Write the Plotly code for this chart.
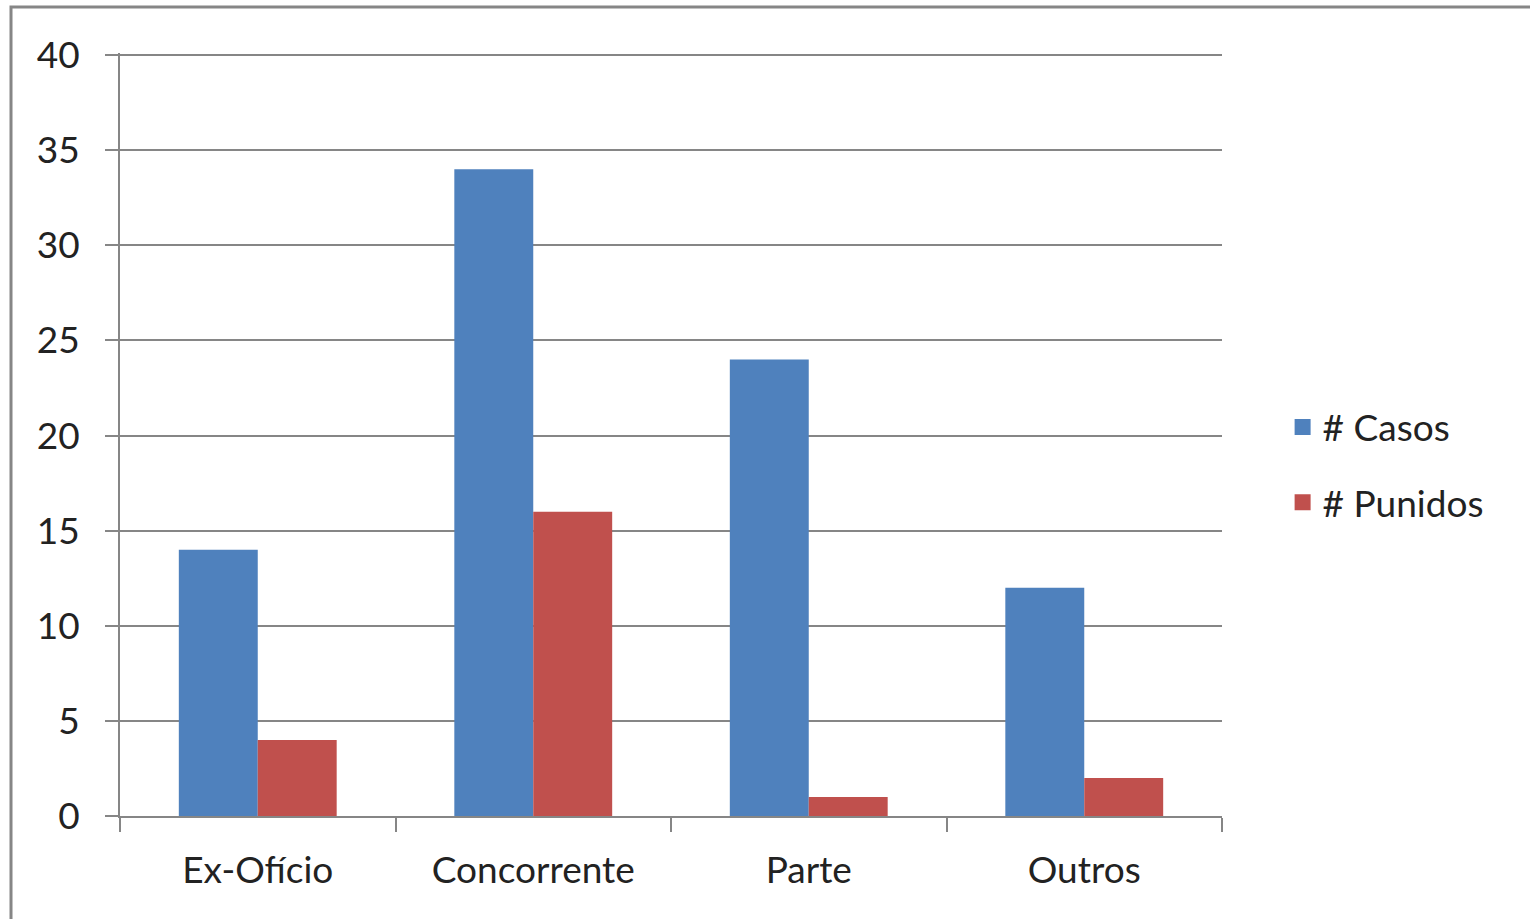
import plotly.graph_objects as go

categories = ["Ex-Ofício", "Concorrente", "Parte", "Outros"]
casos = [14, 34, 24, 12]
punidos = [4, 16, 1, 2]
y_ticks = [0, 5, 10, 15, 20, 25, 30, 35, 40]

FONT = "Lato, Open Sans, sans-serif"
GRAY = "#868686"
BLUE = "#4F81BD"
RED = "#C0504D"

fig = go.Figure()
fig.add_trace(go.Bar(x=categories, y=casos, name="# Casos", marker_color=BLUE,
                     marker_line_width=0, showlegend=False))
fig.add_trace(go.Bar(x=categories, y=punidos, name="# Punidos", marker_color=RED,
                     marker_line_width=0, showlegend=False))
# legend entries with larger square swatches
fig.add_trace(go.Scatter(x=[None], y=[None], mode="markers", name="# Casos",
                         marker=dict(symbol="square", size=20, color=BLUE),
                         legendgroup="a", showlegend=True))
fig.add_trace(go.Scatter(x=[None], y=[None], mode="markers", name="# Punidos",
                         marker=dict(symbol="square", size=20, color=RED),
                         legendgroup="b", showlegend=True))

PLOT_H = 816 - 53
fig.update_layout(
    width=1530, height=919,
    margin=dict(l=120, r=308, t=53, b=103),
    paper_bgcolor="white", plot_bgcolor="white",
    barmode="group", bargap=0.427, bargroupgap=0,
    font=dict(family=FONT, size=37, color="#222222"),
    legend=dict(x=1.055, y=(816 - 465) / PLOT_H, xanchor="left", yanchor="middle",
                font=dict(size=37), tracegroupgap=24, itemwidth=30),
    showlegend=True,
    xaxis=dict(type="category", showline=True, linecolor=GRAY, linewidth=2,
               ticks="outside", tickson="boundaries", ticklen=14, tickwidth=2,
               tickcolor=GRAY, showgrid=False, ticklabelstandoff=21),
    yaxis=dict(range=[0, 40.11], tickvals=y_ticks, showline=True, linecolor=GRAY,
               linewidth=2, ticks="outside", ticklen=13, tickwidth=2, tickcolor=GRAY,
               showgrid=True, gridcolor=GRAY, gridwidth=1.5, zeroline=False,
               ticklabelstandoff=18),
    shapes=[dict(type="rect", xref="paper", yref="paper",
                 x0=(11 - 120) / 1102, x1=2, y0=-1, y1=(816 - 7) / PLOT_H,
                 line=dict(color=GRAY, width=3), fillcolor="rgba(0,0,0,0)")],
)

fig.write_html("out.html")
